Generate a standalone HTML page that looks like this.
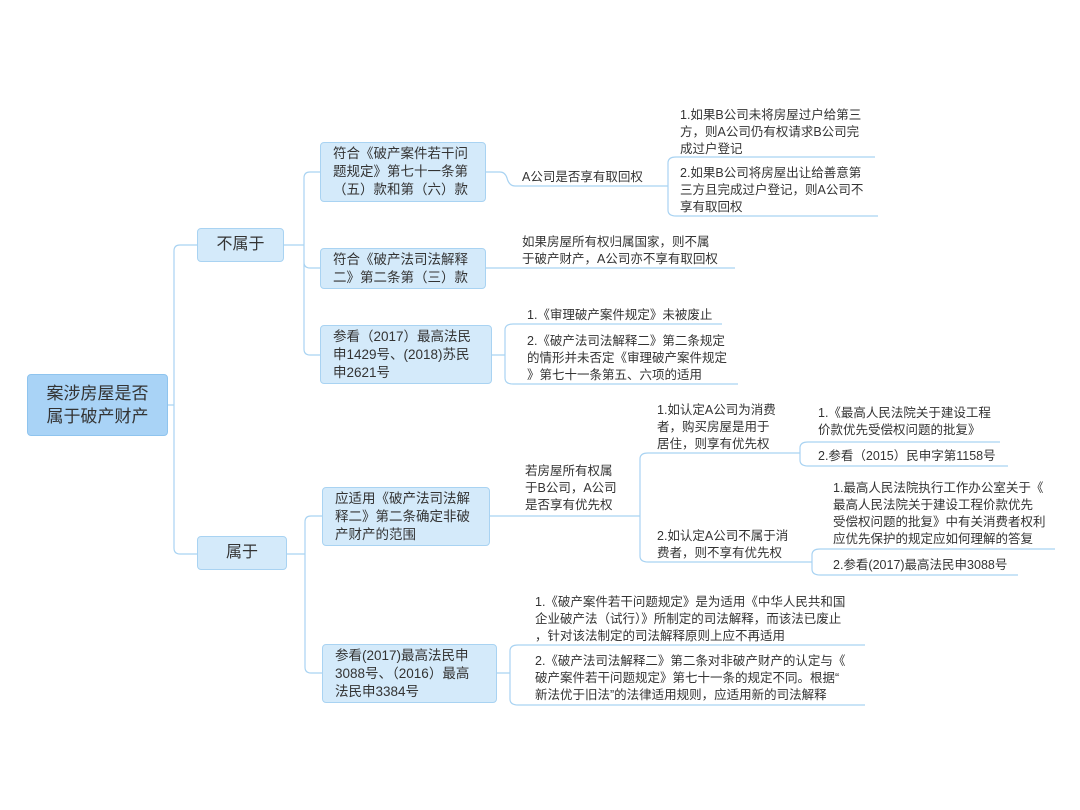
<!DOCTYPE html>
<html><head><meta charset="utf-8">
<style>
body{margin:0;width:1080px;height:810px;background:#fff;position:relative;overflow:hidden;font-family:"Liberation Sans","Noto Sans CJK SC",sans-serif;color:#333}
.b{position:absolute;box-sizing:border-box;background:#d4eafa;border:1px solid #a9d3f2;border-radius:4px;font-size:13.5px;line-height:18px;padding:0 12px;display:flex;align-items:center}
.t{position:absolute;font-size:12.5px;line-height:17px;white-space:nowrap;color:#333}
svg{position:absolute;left:0;top:0}
</style></head><body>
<svg width="1080" height="810" fill="none" stroke="#a9d3f2" stroke-width="1.2">
<!-- root -->
<path d="M168 405 H174 M174 405 V251 Q174 245 180 245 H197 M174 405 V548 Q174 554 180 554 H197"/>
<!-- 不属于 -->
<path d="M284 245 H304 M304 245 V178 Q304 172 310 172 H320 M304 245 V262 Q304 268 310 268 H320 M304 245 V349 Q304 355 310 355 H320"/>
<!-- 属于 -->
<path d="M287 554 H305 M305 554 V522 Q305 516 311 516 H322 M305 554 V667 Q305 673 311 673 H322"/>
<!-- box1 -->
<path d="M486 172 H500 Q505 172 507 178 Q509 186 515 186 H668 M668 186 V163 Q668 157 676 157 H875 M668 186 V210 Q668 216 676 216 H878"/>
<!-- box2 -->
<path d="M486 268 H735"/>
<!-- box3 -->
<path d="M492 355 H505 M505 355 V330 Q505 324 513 324 H722 M505 355 V378 Q505 384 513 384 H738"/>
<!-- box4 -->
<path d="M490 516 H640 M640 516 V459 Q640 453 648 453 H800 M640 516 V556 Q640 562 648 562 H812"/>
<path d="M800 453 V448 Q800 442 808 442 H1000 M800 453 V460 Q800 466 808 466 H1008"/>
<path d="M812 562 V555 Q812 549 820 549 H1055 M812 562 V569 Q812 575 820 575 H1018"/>
<!-- box5 -->
<path d="M497 673 H510 M510 673 V651 Q510 645 518 645 H865 M510 673 V699 Q510 705 518 705 H865"/>
</svg>

<div class="b" style="left:27px;top:374px;width:141px;height:62px;background:#a9d3f6;border-color:#8fc4ee;font-size:17px;line-height:23px;justify-content:center;text-align:center;padding:0 8px">案涉房屋是否<br>属于破产财产</div>
<div class="b" style="left:197px;top:228px;width:87px;height:34px;font-size:16px;justify-content:center">不属于</div>
<div class="b" style="left:197px;top:536px;width:90px;height:34px;font-size:16px;justify-content:center">属于</div>

<div class="b" style="left:320px;top:142px;width:166px;height:60px;text-align:center">符合《破产案件若干问<br>题规定》第七十一条第<br>（五）款和第（六）款</div>
<div class="b" style="left:320px;top:248px;width:166px;height:41px">符合《破产法司法解释<br>二》第二条第（三）款</div>
<div class="b" style="left:320px;top:325px;width:172px;height:59px">参看（2017）最高法民<br>申1429号、(2018)苏民<br>申2621号</div>
<div class="b" style="left:322px;top:487px;width:168px;height:59px">应适用《破产法司法解<br>释二》第二条确定非破<br>产财产的范围</div>
<div class="b" style="left:322px;top:644px;width:175px;height:59px">参看(2017)最高法民申<br>3088号、（2016）最高<br>法民申3384号</div>

<div class="t" style="left:522px;top:169px">A公司是否享有取回权</div>
<div class="t" style="left:680px;top:107px">1.如果B公司未将房屋过户给第三<br>方，则A公司仍有权请求B公司完<br>成过户登记</div>
<div class="t" style="left:680px;top:165px">2.如果B公司将房屋出让给善意第<br>三方且完成过户登记，则A公司不<br>享有取回权</div>
<div class="t" style="left:522px;top:234px">如果房屋所有权归属国家，则不属<br>于破产财产，A公司亦不享有取回权</div>
<div class="t" style="left:527px;top:307px">1.《审理破产案件规定》未被废止</div>
<div class="t" style="left:527px;top:333px">2.《破产法司法解释二》第二条规定<br>的情形并未否定《审理破产案件规定<br>》第七十一条第五、六项的适用</div>
<div class="t" style="left:525px;top:463px">若房屋所有权属<br>于B公司，A公司<br>是否享有优先权</div>
<div class="t" style="left:657px;top:402px">1.如认定A公司为消费<br>者，购买房屋是用于<br>居住，则享有优先权</div>
<div class="t" style="left:657px;top:528px">2.如认定A公司不属于消<br>费者，则不享有优先权</div>
<div class="t" style="left:818px;top:405px">1.《最高人民法院关于建设工程<br>价款优先受偿权问题的批复》</div>
<div class="t" style="left:818px;top:448px">2.参看（2015）民申字第1158号</div>
<div class="t" style="left:833px;top:480px">1.最高人民法院执行工作办公室关于《<br>最高人民法院关于建设工程价款优先<br>受偿权问题的批复》中有关消费者权利<br>应优先保护的规定应如何理解的答复</div>
<div class="t" style="left:833px;top:557px">2.参看(2017)最高法民申3088号</div>
<div class="t" style="left:535px;top:594px">1.《破产案件若干问题规定》是为适用《中华人民共和国<br>企业破产法（试行）》所制定的司法解释，而该法已废止<br>，针对该法制定的司法解释原则上应不再适用</div>
<div class="t" style="left:535px;top:653px">2.《破产法司法解释二》第二条对非破产财产的认定与《<br>破产案件若干问题规定》第七十一条的规定不同。根据“<br>新法优于旧法”的法律适用规则，应适用新的司法解释</div>
</body></html>
